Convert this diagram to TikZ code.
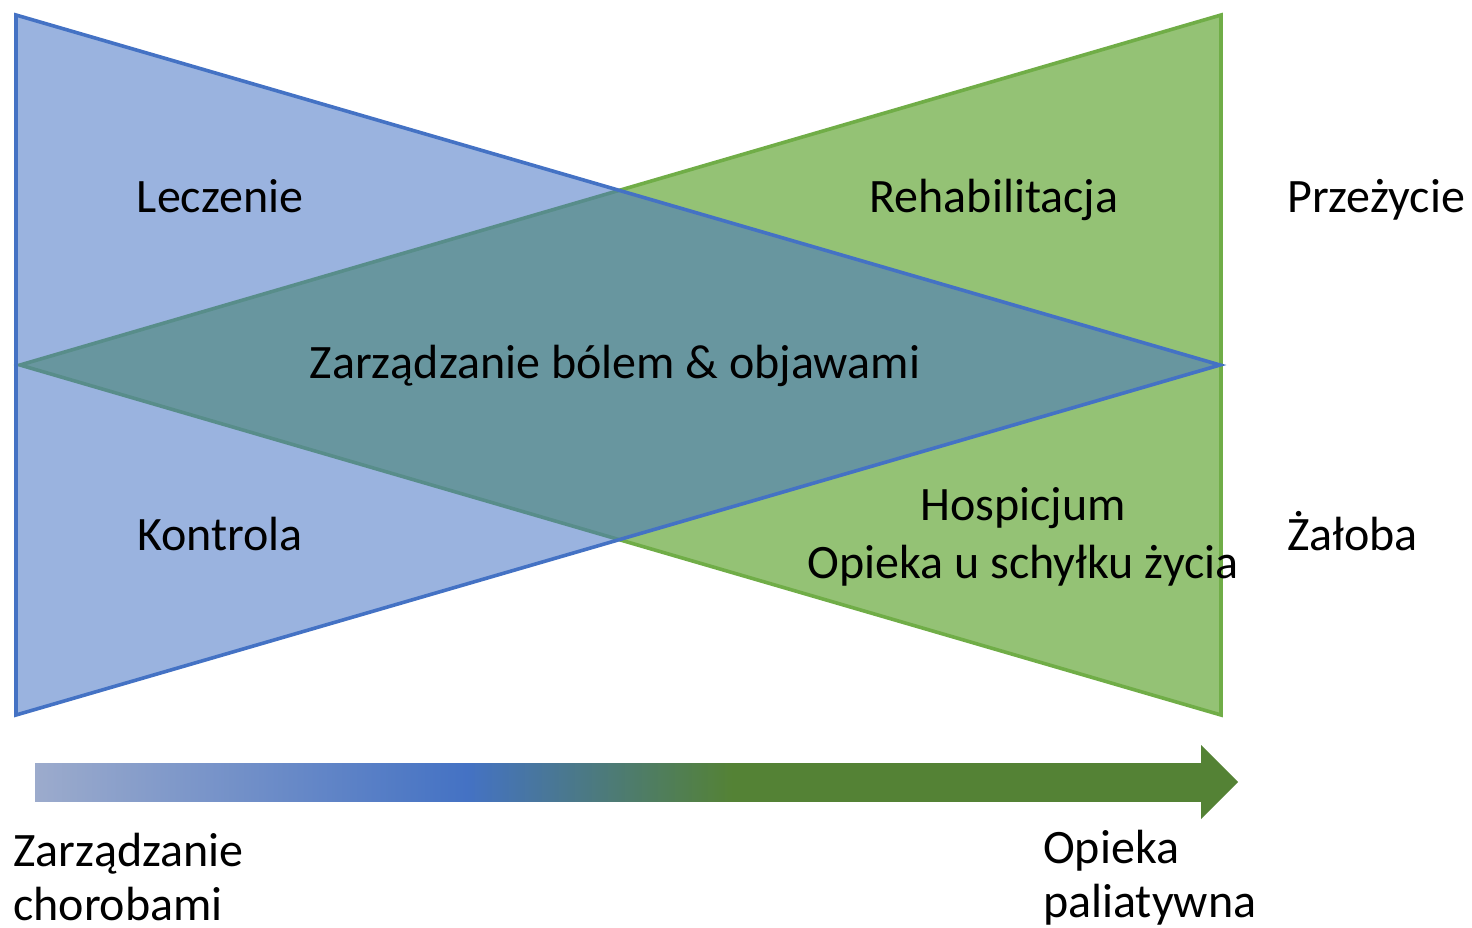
\documentclass[tikz,border=0pt]{standalone}
\usepackage{fontspec}
\setmainfont{Carlito}
\definecolor{tblue}{RGB}{68,114,196}
\definecolor{tgreen}{RGB}{112,173,71}
\definecolor{agreen}{RGB}{84,130,53}
\definecolor{alight}{RGB}{156,171,204}
\pgfdeclarehorizontalshading{arrowshade}{100bp}{color(0bp)=(alight); color(25bp)=(alight); color(43.5bp)=(tblue); color(54.9bp)=(agreen); color(100bp)=(agreen)}
\tikzset{
  lbl/.style={inner sep=0pt, font=\fontsize{48pt}{58pt}\selectfont, text=black},
  tri/.style={line width=3.6pt, line join=miter}
}
\begin{document}
\begin{tikzpicture}[x=1pt,y=-1pt]
\useasboundingbox (0,0) rectangle (1472,927);
% green triangle (behind)
\filldraw[tri, draw=tgreen, fill=tgreen, fill opacity=0.75]
  (1221,15) coordinate (g1) -- (1221,715) coordinate (g2) -- (20,365) coordinate (g3) -- cycle;
% blue triangle (front, translucent)
\filldraw[tri, draw=tblue, fill=tblue, fill opacity=0.54]
  (16,15) coordinate (b1) -- (16,715) coordinate (b2) -- (1220,365) coordinate (b3) -- cycle;
% arrow
\fill[agreen] (1190,763) coordinate (a0) -- (1201,763) -- (1201,745) -- (1238,782) coordinate (atip) -- (1201,819) -- (1201,801) -- (1190,801) -- cycle;
\shade[shading=arrowshade] (35,763) rectangle (1201.5,801);
% labels
\node[lbl, anchor=base] (lecz) at (220,212) {Leczenie};
\node[lbl, anchor=base] (reha) at (994,212) {Rehabilitacja};
\node[lbl, anchor=base west] (przez) at (1287,212) {Przeżycie};
\node[lbl, anchor=base] (zarz) at (615,378) {Zarządzanie bólem \& objawami};
\node[lbl, anchor=base] (kont) at (220,550) {Kontrola};
\node[lbl, anchor=base] (hosp) at (1023,520) {Hospicjum};
\node[lbl, anchor=base] (opiek) at (1023,578) {Opieka u schyłku życia};
\node[lbl, anchor=base west] (zalo) at (1287,550) {Żałoba};
\node[lbl, anchor=base west] (zc1) at (13,866) {Zarządzanie};
\node[lbl, anchor=base west] (zc2) at (13,920) {chorobami};
\node[lbl, anchor=base west] (op1) at (1043,863) {Opieka};
\node[lbl, anchor=base west] (op2) at (1043,917) {paliatywna};
\end{tikzpicture}
\end{document}
